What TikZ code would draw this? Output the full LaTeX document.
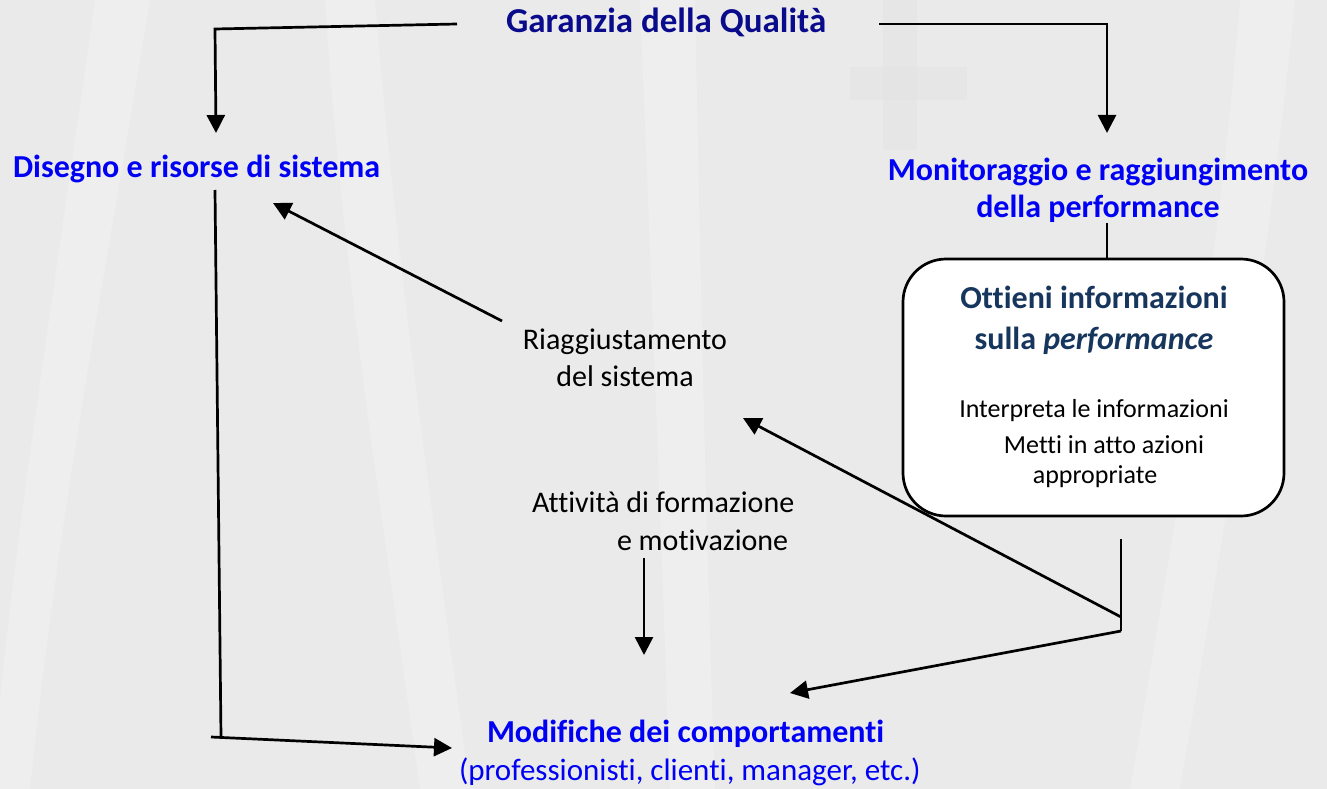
\documentclass[tikz,border=0pt]{standalone}
\usepackage{fontspec}
\setmainfont{Carlito}[Ligatures=NoCommon]
\usetikzlibrary{arrows.meta}
\definecolor{bg}{RGB}{234,234,234}
\definecolor{wmark}{RGB}{242,242,242}
\definecolor{wcross}{RGB}{228,228,228}
\definecolor{navytitle}{RGB}{10,10,140}
\definecolor{headblue}{RGB}{0,0,245}
\definecolor{boxnavy}{RGB}{23,54,93}
\begin{document}
\begin{tikzpicture}[x=1pt,y=-1pt,
  conn/.style={line width=2.7pt,draw=black},
  arr/.style={conn,-{Triangle[length=18pt,width=18pt]}},
  lbl/.style={inner sep=0pt,outer sep=0pt},
  ttl/.style={lbl,text=navytitle,font=\fontsize{35}{42}\selectfont\bfseries},
  head/.style={lbl,text=headblue,font=\fontsize{32}{38}\selectfont\bfseries},
  plain/.style={lbl,text=black,font=\fontsize{30}{36}\selectfont},
  boxb/.style={lbl,text=boxnavy,font=\fontsize{32}{38}\selectfont\bfseries},
  boxr/.style={lbl,text=black,font=\fontsize{26}{31}\selectfont},
  rbox/.style={draw=black,line width=2.7pt,fill=white,rounded corners=43pt}
]
% background and watermark
\fill[bg] (0,0) rectangle (1327,789);
\useasboundingbox (0,0) rectangle (1327,789);
\fill[wmark,opacity=0.5] (95,0) .. controls (60,250) and (20,500) .. (0,700) -- (0,789) -- (30,789) .. controls (60,500) and (110,250) .. (150,0) -- cycle;
\fill[wmark,opacity=0.5] (325,0) .. controls (340,250) and (380,500) .. (420,789) -- (470,789) .. controls (430,500) and (395,250) .. (375,0) -- cycle;
\fill[wmark,opacity=0.5] (640,0) .. controls (650,250) and (660,500) .. (670,789) -- (715,789) .. controls (705,500) and (700,250) .. (695,0) -- cycle;
\fill[wmark,opacity=0.5] (1240,0) .. controls (1220,250) and (1180,500) .. (1130,789) -- (1180,789) .. controls (1230,500) and (1270,250) .. (1295,0) -- cycle;
\fill[wcross,opacity=0.5] (883,0) rectangle (917,150);
\fill[wcross,opacity=0.5] (850,67) rectangle (967,100);

% texts
\node[ttl,anchor=base west] (title) at (506,33) {Garanzia della Qualità};
\node[head,anchor=base west] (dis) at (13,177) {Disegno e risorse di sistema};
\node[head,anchor=base] (mon1) at (1098,180) {Monitoraggio e raggiungimento};
\node[head,anchor=base] (mon2) at (1098,217) {della performance};
\node[plain,anchor=base] (ria1) at (625,349) {Riaggiustamento};
\node[plain,anchor=base] (ria2) at (625,386) {del sistema};
\node[plain,anchor=base west] (att1) at (532,512) {Attività di formazione};
\node[plain,anchor=base west] (att2) at (617,550) {e motivazione};
\node[head,anchor=base west] (mod1) at (487,742) {Modifiche dei comportamenti};
\node[lbl,text=headblue,font=\fontsize{31}{37}\selectfont,anchor=base west] (mod2) at (459,780) {(professionisti, clienti, manager, etc.)};

% rounded box
\draw[rbox] (903,259) rectangle (1284,516);
\node[boxb,anchor=base] (ott1) at (1094,308) {Ottieni informazioni};
\node[boxb,anchor=base] (ott2) at (1094,349) {sulla \textit{performance}};
\node[boxr,anchor=base] (int) at (1094,417) {Interpreta le informazioni};
\node[boxr,anchor=base] (met1) at (1104,453) {Metti in atto azioni};
\node[boxr,anchor=base] (met2) at (1095,483) {appropriate};

% connector coordinates
\coordinate (tL1) at (457,24);
\coordinate (tL2) at (215,29);
\coordinate (disTip) at (216,133);
\coordinate (tR1) at (879,24);
\coordinate (tR2) at (1107,24);
\coordinate (monTip) at (1107,133);
\coordinate (monBot) at (1107,223);
\coordinate (boxTop) at (1107,259);
\coordinate (vTop) at (215,190);
\coordinate (vBot) at (221,737);
\coordinate (hStart) at (211,737);
\coordinate (modTip) at (452,748);
\coordinate (riaStart) at (502,321);
\coordinate (riaTip) at (273,203);
\coordinate (jTop) at (1121,539);
\coordinate (jMid) at (1121,617);
\coordinate (jBot) at (1121,631);
\coordinate (riaTip2) at (743,418);
\coordinate (modTip2) at (790,693);
\coordinate (attStart) at (644,558);
\coordinate (attTip) at (644,655);

% connectors
\draw[arr] (tL1) -- (tL2) -- (disTip);
\draw[arr] (tR1) -- (tR2) -- (monTip);
\draw[conn] (monBot) -- (boxTop);
\draw[conn] (vTop) -- (vBot);
\draw[arr] (hStart) -- (modTip);
\draw[arr] (riaStart) -- (riaTip);
\draw[conn] (jTop) -- (jBot);
\draw[arr] (jMid) -- (riaTip2);
\draw[arr] (jBot) -- (modTip2);
\draw[arr] (attStart) -- (attTip);
\end{tikzpicture}
\end{document}
